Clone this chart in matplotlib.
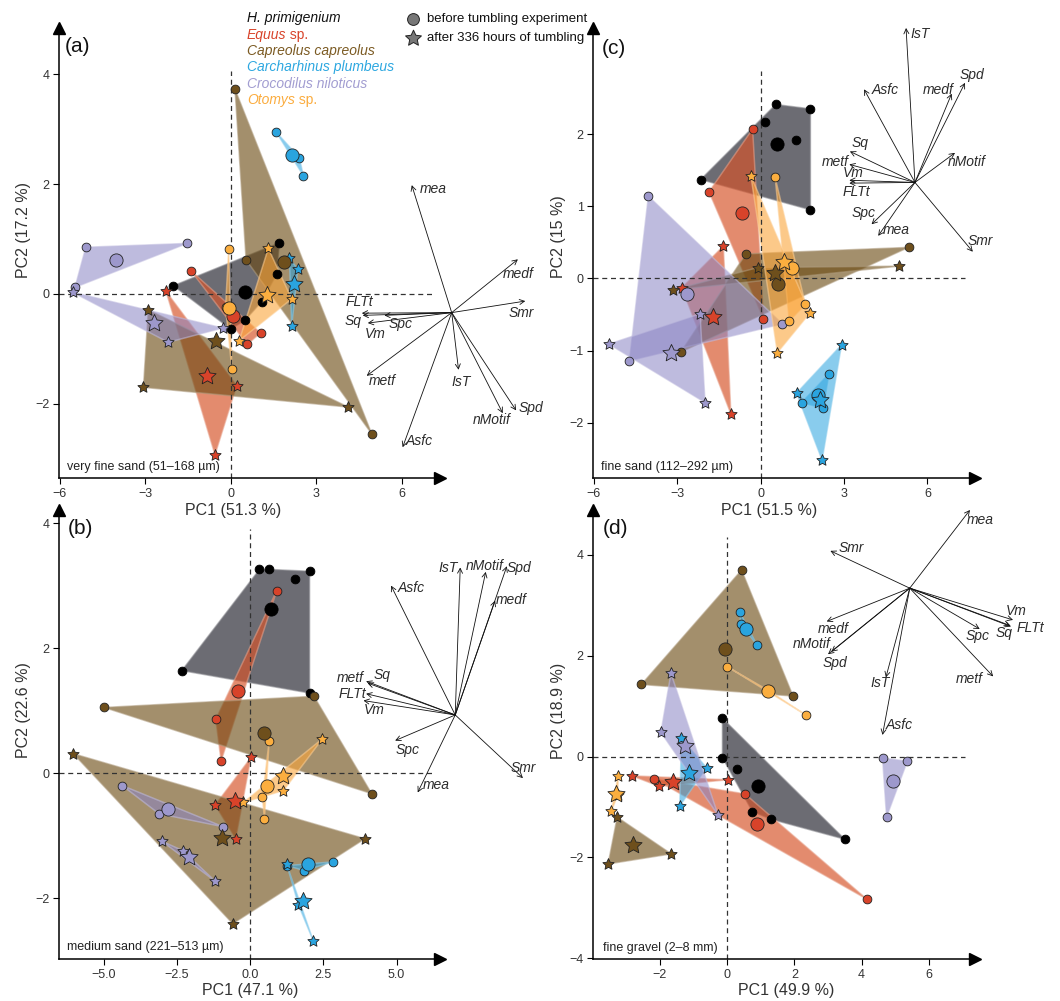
import matplotlib.pyplot as plt
import numpy as np
from matplotlib.path import Path
from matplotlib.colors import to_rgb

plt.rcParams['font.family'] = ['Liberation Sans', 'DejaVu Sans']

W, H = 1060, 1001

# ---- groups -------------------------------------------------------------
SPECIES = ['H', 'E', 'C', 'Ca', 'Cr', 'O']
LEGEND_NAMES = ['H. primigenium', 'Equus', 'Capreolus capreolus',
                'Carcharhinus plumbeus', 'Crocodilus niloticus', 'Otomys']
LEGEND_SUFFIX = ['', ' sp.', '', '', '', ' sp.']
POINT_COL = {'H': '#000000', 'E': '#d8432a', 'C': '#6e4f1c',
             'Ca': '#2aa4df', 'Cr': '#9d98cc', 'O': '#fbae3f'}
HULL_COL = {'H': '#262731', 'E': '#d6542a', 'C': '#6b4a12',
            'Ca': '#29a3df', 'Cr': '#8a84c4', 'O': '#fba53a'}
HULL_ALPHA = {'H': 0.68, 'E': 0.68, 'C': 0.62, 'Ca': 0.55, 'Cr': 0.55, 'O': 0.6}
TEXT_COL = ['#111111', '#d8432a', '#7b5a22', '#2ca7e0', '#a29dd1', '#fbac3e']

# ---- panel (a): very fine sand ---------------------------------------------
a_before = {
    'H': [(-2.01, 0.15), (1.71, 0.93), (1.61, 0.36), (1.09, -0.14), (0.50, -0.48), (0.00, -0.64)],
    'E': [(-1.39, 0.42), (1.05, -0.71), (0.58, -0.92)],
    'C': [(0.15, 3.73), (0.54, 0.62), (4.95, -2.55)],
    'Ca': [(1.59, 2.95), (2.41, 2.48), (2.55, 2.15)],
    'Cr': [(-5.08, 0.85), (-1.52, 0.92), (-5.46, 0.12)],
    'O': [(-0.07, 0.82), (0.04, -1.36), (-0.18, -0.24)],
}
a_after = {
    'E': [(-2.27, 0.05), (0.21, -1.67), (-0.55, -2.93)],
    'C': [(-2.89, -0.29), (-3.06, -1.70), (4.13, -2.06)],
    'Ca': [(2.06, 0.65), (2.35, 0.45), (2.14, -0.59)],
    'Cr': [(-5.54, 0.03), (-2.19, -0.88), (-0.28, -0.62)],
    'O': [(1.32, 0.83), (2.14, -0.09), (0.30, -0.85)],
}
a_mean_before = {'H': (0.50, 0.04), 'E': (0.09, -0.40), 'C': (1.88, 0.59),
                 'Ca': (2.16, 2.53), 'Cr': (-4.02, 0.62), 'O': (-0.07, -0.26)}
a_mean_after = {'E': (-0.84, -1.49), 'C': (-0.51, -0.85), 'Ca': (2.22, 0.18),
                'Cr': (-2.68, -0.52), 'O': (1.26, -0.02)}
a_origin = (7.75, -0.34)
a_load = {'mea': (-1.40, 2.32), 'medf': (2.32, 0.97), 'Smr': (2.58, 0.21),
          'FLTt': (-3.15, -0.01), 'Sq': (-3.12, -0.05), 'Spc': (-2.36, -0.05),
          'Vm': (-2.94, -0.19), 'metf': (-2.98, -1.15), 'IsT': (0.24, -1.04),
          'nMotif': (1.79, -1.83), 'Spd': (2.26, -1.78), 'Asfc': (-1.72, -2.45)}

# ---- panel (c): fine sand --------------------------------------------------
c_before = {
    'H': [(0.54, 2.41), (1.79, 2.35), (0.17, 2.17), (1.27, 1.92), (-2.16, 1.37), (1.79, 0.95)],
    'E': [(-0.29, 2.07), (-1.86, 1.20), (0.10, -0.56)],
    'C': [(-0.53, 0.34), (5.32, 0.43), (-2.87, -1.02)],
    'Ca': [(2.46, -1.32), (1.47, -1.72), (2.25, -1.80)],
    'Cr': [(-4.04, 1.14), (-4.72, -1.14), (0.78, -0.63)],
    'O': [(0.52, 1.40), (1.61, -0.36), (1.03, -0.59)],
}
c_after = {
    'E': [(-1.34, 0.45), (-2.84, -0.13), (-1.07, -1.88)],
    'C': [(-3.14, -0.16), (-0.11, 0.15), (4.98, 0.17)],
    'Ca': [(1.29, -1.59), (2.91, -0.92), (2.21, -2.52)],
    'Cr': [(-5.46, -0.91), (-2.18, -0.49), (-2.00, -1.72)],
    'O': [(-0.35, 1.42), (1.77, -0.48), (0.60, -1.03)],
}
c_mean_before = {'H': (0.59, 1.86), 'E': (-0.68, 0.90), 'C': (0.64, -0.08),
                 'Ca': (2.07, -1.61), 'Cr': (-2.66, -0.22), 'O': (1.12, 0.15)}
c_mean_after = {'E': (-1.73, -0.53), 'C': (0.53, 0.07), 'Ca': (2.13, -1.68),
                'Cr': (-3.21, -1.03), 'O': (0.85, 0.23)}
c_origin = (5.55, 1.33)
c_load = {'IsT': (-0.32, 2.14), 'Asfc': (-1.83, 1.29), 'medf': (1.32, 1.23),
          'Spd': (1.80, 1.38), 'Sq': (-2.34, 0.43), 'nMotif': (1.44, 0.41),
          'metf': (-2.36, 0.25), 'Vm': (-2.36, 0.03), 'FLTt': (-2.36, -0.01),
          'Spc': (-1.56, -0.58), 'mea': (-1.32, -0.74), 'Smr': (2.08, -0.96)}

# ---- panel (b): medium sand ------------------------------------------------
b_before = {
    'H': [(0.32, 3.26), (0.63, 3.26), (2.03, 3.23), (1.54, 3.10), (-2.33, 1.64), (2.03, 1.28)],
    'E': [(0.91, 2.92), (-1.17, 0.86), (-0.99, 0.19)],
    'C': [(-4.98, 1.05), (2.18, 1.23), (4.15, -0.33)],
    'Ca': [(1.27, -1.48), (2.84, -1.42), (1.84, -1.56)],
    'Cr': [(-4.36, -0.20), (-3.11, -0.65), (-0.91, -0.86)],
    'O': [(0.65, 0.51), (0.42, -0.39), (0.49, -0.74)],
}
b_after = {
    'E': [(0.03, 0.25), (-1.19, -0.51), (-0.49, -1.05)],
    'C': [(-6.03, 0.31), (3.92, -1.05), (-0.59, -2.41)],
    'Ca': [(1.25, -1.46), (1.65, -2.11), (2.16, -2.69)],
    'Cr': [(-3.01, -1.09), (-2.30, -1.24), (-1.19, -1.73)],
    'O': [(2.47, 0.55), (1.14, -0.28), (-0.23, -0.47)],
}
b_mean_before = {'H': (0.71, 2.62), 'E': (-0.42, 1.32), 'C': (0.49, 0.64),
                 'Ca': (1.97, -1.45), 'Cr': (-2.79, -0.58), 'O': (0.59, -0.20)}
b_mean_after = {'E': (-0.53, -0.44), 'C': (-0.97, -1.04), 'Ca': (1.82, -2.05),
                'Cr': (-2.07, -1.35), 'O': (1.14, -0.04)}
b_origin = (7.0, 0.93)
b_load = {'IsT': (0.17, 2.36), 'nMotif': (1.04, 2.29), 'Spd': (1.76, 2.38),
          'medf': (1.36, 1.83), 'Asfc': (-2.19, 2.07), 'metf': (-3.04, 0.54),
          'Sq': (-2.99, 0.51), 'FLTt': (-3.04, 0.34), 'Vm': (-3.13, 0.23),
          'Spc': (-2.05, -0.41), 'mea': (-1.28, -1.24), 'Smr': (2.31, -1.01)}

# ---- panel (d): fine gravel ------------------------------------------------
d_before = {
    'H': [(-0.14, 0.76), (-0.14, -0.02), (0.30, -0.24), (0.75, -1.09), (1.29, -1.24), (3.50, -1.64)],
    'E': [(-2.18, -0.44), (0.53, -0.74), (4.16, -2.83)],
    'C': [(0.43, 3.70), (-2.55, 1.43), (1.96, 1.20)],
    'Ca': [(0.38, 2.86), (0.40, 2.63), (0.89, 2.21)],
    'Cr': [(4.62, -0.03), (5.36, -0.09), (4.74, -1.20)],
    'O': [(0.01, 1.78), (2.33, 0.83), (1.23, 1.31)],
}
d_after = {
    'E': [(-2.84, -0.38), (-2.02, -0.59), (0.03, -0.46)],
    'C': [(-3.27, -1.20), (-3.54, -2.13), (-1.66, -1.93)],
    'Ca': [(-1.36, 0.36), (-0.61, -0.22), (-1.41, -0.98)],
    'Cr': [(-1.67, 1.65), (-1.97, 0.48), (-0.27, -1.16)],
    'O': [(-3.24, -0.38), (-3.44, -1.07), (-3.25, -0.77)],
}
d_mean_before = {'H': (0.93, -0.58), 'E': (0.89, -1.34), 'C': (-0.05, 2.13),
                 'Ca': (0.57, 2.54), 'Cr': (4.92, -0.48), 'O': (1.20, 1.31)}
d_mean_after = {'E': (-1.61, -0.50), 'C': (-2.81, -1.75), 'Ca': (-1.14, -0.32),
                'Cr': (-1.26, 0.21), 'O': (-3.31, -0.74)}
d_origin = (5.43, 3.34)
d_load = {'mea': (1.79, 1.55), 'Smr': (-2.36, 0.74), 'Vm': (3.07, -0.63),
          'FLTt': (3.01, -0.76), 'Sq': (2.98, -0.74), 'Spc': (2.08, -0.81),
          'metf': (2.48, -1.75), 'medf': (-2.47, -0.66), 'nMotif': (-2.33, -1.26),
          'Spd': (-2.43, -1.31), 'IsT': (-0.71, -1.77), 'Asfc': (-0.81, -2.91)}

# label offsets of the loading names, in pixels from the arrow tip
a_lab_off = {'mea': (21, -4), 'medf': (0, -15), 'Smr': (-4, -12), 'FLTt': (-2, 11),
             'Sq': (-10, -6), 'Spc': (16, -9), 'Vm': (7, -11), 'metf': (16, -5),
             'IsT': (3, -12), 'nMotif': (-11, -7), 'Spd': (15, 2), 'Asfc': (17, 6)}
c_lab_off = {'IsT': (14, -6), 'Asfc': (21, -1), 'medf': (-13, 4), 'Spd': (7, 8),
             'Sq': (10, 8), 'nMotif': (12, -9), 'metf': (-14, 2), 'Vm': (4, 7),
             'FLTt': (7, -9), 'Spc': (-8, 11), 'mea': (18, 6), 'Smr': (8, 11)}
b_lab_off = {'IsT': (-12, -1), 'nMotif': (-1, 6), 'Spd': (12, -2), 'medf': (16, 1),
             'Asfc': (20, -2), 'metf': (-16, 3), 'Sq': (14, 8), 'FLTt': (-14, 0),
             'Vm': (11, -9), 'Spc': (12, -9), 'mea': (19, 7), 'Smr': (0, 10)}
d_lab_off = {'mea': (10, -10), 'Smr': (21, 3), 'Vm': (3, 9), 'FLTt': (19, -2),
             'Sq': (-6, -8), 'Spc': (-2, -7), 'metf': (-24, -3), 'medf': (7, -8),
             'nMotif': (-20, 8), 'Spd': (7, -9), 'IsT': (-6, -6), 'Asfc': (17, 10)}

PANELS = [
    dict(tag='(a)', note='very fine sand (51\u2013168 \u00b5m)', xlab='PC1 (51.3 %)', ylab='PC2 (17.2 %)',
         data=(a_before, a_after, a_mean_before, a_mean_after, a_origin, a_load, a_lab_off),
         box=(59, 28, 440, 478), xlim=(-6.02, 7.34), ylim=(-3.35, 4.84),
         xticks=[-6, -3, 0, 3, 6], yticks=[-2, 0, 2, 4], fmt='{:g}', hend=7.17, vtop=4.05,
         tagpos=(77, 47), notepos=(67, 467), xlabpos=(233, 510), ylabpos=(24, 230)),
    dict(tag='(c)', note='fine sand (112\u2013292 \u00b5m)', xlab='PC1 (51.5 %)', ylab='PC2 (15 %)',
         data=(c_before, c_after, c_mean_before, c_mean_after, c_origin, c_load, c_lab_off),
         box=(593.3, 28, 975, 478.3), xlim=(-6.02, 7.71), ylim=(-2.77, 3.47),
         xticks=[-6, -3, 0, 3, 6], yticks=[-2, -1, 0, 1, 2], fmt='{:g}', hend=7.35, vtop=2.87,
         tagpos=(614, 48), notepos=(601, 467), xlabpos=(769, 510), ylabpos=(559, 237)),
    dict(tag='(b)', note='medium sand (221\u2013513 \u00b5m)', xlab='PC1 (47.1 %)', ylab='PC2 (22.6 %)',
         data=(b_before, b_after, b_mean_before, b_mean_after, b_origin, b_load, b_lab_off),
         box=(59, 510, 440, 959.3), xlim=(-6.52, 6.48), ylim=(-2.98, 4.21),
         xticks=[-5, -2.5, 0, 2.5, 5], yticks=[-2, 0, 2, 4], fmt='{:.1f}', hend=6.31, vtop=3.90,
         tagpos=(80, 528), notepos=(67, 947), xlabpos=(250, 990), ylabpos=(24, 710)),
    dict(tag='(d)', note='fine gravel (2\u20138 mm)', xlab='PC1 (49.9 %)', ylab='PC2 (18.9 %)',
         data=(d_before, d_after, d_mean_before, d_mean_after, d_origin, d_load, d_lab_off),
         box=(593.3, 510, 975, 959.3), xlim=(-3.98, 7.37), ylim=(-4.02, 4.89),
         xticks=[-2, 0, 2, 4, 6], yticks=[-4, -2, 0, 2, 4], fmt='{:g}', hend=7.07, vtop=4.36,
         tagpos=(616, 528), notepos=(603, 948), xlabpos=(786, 990), ylabpos=(559, 711)),
]


def star_marker(inner=0.48):
    ang = np.pi / 2 + np.arange(10) * np.pi / 5
    r = np.where(np.arange(10) % 2 == 0, 1.0, inner)
    verts = list(zip(r * np.cos(ang), r * np.sin(ang)))
    verts.append(verts[0])
    codes = [Path.MOVETO] + [Path.LINETO] * 9 + [Path.CLOSEPOLY]
    return Path(verts, codes)


STAR = star_marker()


def convex_hull(pts):
    pts = sorted(set(pts))
    if len(pts) < 3:
        return pts

    def cross(o, a, b):
        return (a[0] - o[0]) * (b[1] - o[1]) - (a[1] - o[1]) * (b[0] - o[0])
    lower, upper = [], []
    for p in pts:
        while len(lower) >= 2 and cross(lower[-2], lower[-1], p) <= 0:
            lower.pop()
        lower.append(p)
    for p in reversed(pts):
        while len(upper) >= 2 and cross(upper[-2], upper[-1], p) <= 0:
            upper.pop()
        upper.append(p)
    return lower[:-1] + upper[:-1]


def lighter(col, f):
    r, g, b = to_rgb(col)
    return (r + (1 - r) * f, g + (1 - g) * f, b + (1 - b) * f)


def fig_xy(x, y):
    return x / W, 1 - y / H


fig = plt.figure(figsize=(W / 100, H / 100), dpi=100)

for p in PANELS:
    before, after, mean_b, mean_a, origin, load, lab_off = p['data']
    l, t, r, b = p['box']
    ax = fig.add_axes([l / W, 1 - b / H, (r - l) / W, (b - t) / H])
    ax.set_xlim(p['xlim'])
    ax.set_ylim(p['ylim'])
    for s in ['top', 'right']:
        ax.spines[s].set_visible(False)
    for s in ['left', 'bottom']:
        ax.spines[s].set_linewidth(1.1)
    ax.plot(1, 0, '>', color='k', ms=9, transform=ax.transAxes, clip_on=False)
    ax.plot(0, 1, '^', color='k', ms=9, transform=ax.transAxes, clip_on=False)
    ax.set_xticks(p['xticks'])
    ax.set_yticks(p['yticks'])
    ax.set_xticklabels([p['fmt'].format(v).replace('-', '\u2212') for v in p['xticks']])
    ax.set_yticklabels(['{:g}'.format(v).replace('-', '\u2212') for v in p['yticks']])
    ax.tick_params(length=4, width=0.8, pad=3, labelsize=9, labelcolor='#333333')
    ax.patch.set_alpha(0)

    # zero lines
    ax.plot([p['xlim'][0], p['hend']], [0, 0], color='#333333', lw=0.9, ls=(0, (4, 3)), zorder=2)
    ax.plot([0, 0], [p['ylim'][0], p['vtop']], color='#333333', lw=0.9, ls=(0, (4, 3)), zorder=2)

    # hulls
    for k in SPECIES:
        for grp in (before, after):
            if k not in grp:
                continue
            hull = convex_hull(grp[k])
            ec = lighter(HULL_COL[k], 0.45) + (0.55,)
            poly = plt.Polygon(hull, closed=True,
                               facecolor=to_rgb(HULL_COL[k]) + (HULL_ALPHA[k],),
                               edgecolor=ec, lw=1.1, joinstyle='round', zorder=1)
            ax.add_patch(poly)

    # points
    for k in SPECIES:
        ec = '#000000' if k == 'H' else '#222222'
        if k in before:
            xs, ys = zip(*before[k])
            ax.scatter(xs, ys, s=6.3 ** 2, marker='o', color=POINT_COL[k], edgecolors=ec,
                       linewidths=0.6, zorder=3)
        if k in after:
            xs, ys = zip(*after[k])
            ax.scatter(xs, ys, s=8.5 ** 2, marker=STAR, color=POINT_COL[k], edgecolors=ec,
                       linewidths=0.6, zorder=3)
        if k in mean_b:
            ax.scatter([mean_b[k][0]], [mean_b[k][1]], s=9.5 ** 2, marker='o', color=POINT_COL[k],
                       edgecolors=ec, linewidths=0.6, zorder=4)
        if k in mean_a:
            ax.scatter([mean_a[k][0]], [mean_a[k][1]], s=13 ** 2, marker=STAR, color=POINT_COL[k],
                       edgecolors=ec, linewidths=0.6, zorder=4)

    # loadings
    ox, oy = origin
    for name, (dx, dy) in load.items():
        tip = (ox + dx, oy + dy)
        ax.annotate('', xy=tip, xytext=origin, annotation_clip=False,
                    arrowprops=dict(arrowstyle='->,head_length=0.35,head_width=0.18',
                                    lw=0.6, color='#111111', shrinkA=0, shrinkB=0,
                                    mutation_scale=10), zorder=5)
        ax.annotate(name, xy=tip, xytext=lab_off[name], textcoords='offset pixels',
                    ha='center', va='center', fontsize=10, style='italic',
                    color='#2b2b2b', annotation_clip=False, zorder=6)

    fig.text(*fig_xy(*p['tagpos']), p['tag'], fontsize=15, ha='center', va='center', color='#111111')
    fig.text(*fig_xy(*p['notepos']), p['note'], fontsize=9, ha='left', va='center', color='#222222')
    fig.text(*fig_xy(*p['xlabpos']), p['xlab'], fontsize=11.5, ha='center', va='center', color='#333333')
    fig.text(*fig_xy(*p['ylabpos']), p['ylab'], fontsize=11.5, ha='center', va='center',
             rotation=90, color='#333333')

# legend: species names
legend_y = [18, 34.5, 51, 67, 83.5, 100]
for name, suf, col, y in zip(LEGEND_NAMES, LEGEND_SUFFIX, TEXT_COL, legend_y):
    t = fig.text(*fig_xy(247, y), name, fontsize=10, style='italic', color=col,
                 ha='left', va='center')
    if suf:
        ax.annotate(suf, xy=(1, 0), xycoords=t, ha='left', va='bottom', fontsize=10,
                    color=col, annotation_clip=False)

# legend: before / after symbols
lax = fig.add_axes([0, 0, 1, 1])
lax.set_xlim(0, W)
lax.set_ylim(H, 0)
lax.axis('off')
lax.patch.set_alpha(0)
lax.scatter([413], [19], s=8.5 ** 2, marker='o', color='#777777', edgecolors='#222222', linewidths=0.7)
lax.scatter([413], [38], s=12 ** 2, marker=STAR, color='#777777', edgecolors='#222222', linewidths=0.7)
fig.text(*fig_xy(427, 19), 'before tumbling experiment', fontsize=9.5, va='center', color='#111111')
fig.text(*fig_xy(427, 38), 'after 336 hours of tumbling', fontsize=9.5, va='center', color='#111111')

fig.savefig('out.png', dpi=100)
